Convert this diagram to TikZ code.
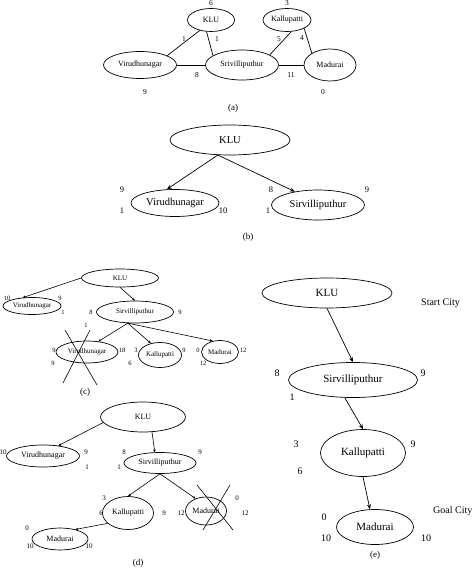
\documentclass[tikz,border=0pt]{standalone}
\usepackage{fontspec}
\setmainfont{Liberation Serif}
\usetikzlibrary{shapes.geometric,arrows.meta}
\begin{document}
\begin{tikzpicture}[x=1pt,y=-1pt,
  city/.style={ellipse,draw,line width=0.7pt,inner sep=0pt},
  edgeln/.style={line width=0.7pt},
  arr/.style={line width=0.7pt,-{Stealth[length=5pt,width=4pt]}},
  sarr/.style={line width=0.6pt,-{Stealth[length=3pt,width=2.6pt]}},
  crossln/.style={line width=0.6pt},
  fa/.style={font=\fontsize{8}{9}\selectfont},
  fb/.style={font=\fontsize{10.5}{12}\selectfont},
  fc/.style={font=\fontsize{7}{8}\selectfont},
  fd/.style={font=\fontsize{8}{9}\selectfont},
  fe/.style={font=\fontsize{11}{13}\selectfont},
  na/.style={inner sep=0pt,font=\fontsize{7.5}{9}\selectfont},
  nb/.style={inner sep=0pt,font=\fontsize{8.5}{10}\selectfont},
  nc/.style={inner sep=0pt,font=\fontsize{6.5}{8}\selectfont},
  nd/.style={inner sep=0pt,font=\fontsize{7}{8}\selectfont},
  ne/.style={inner sep=0pt,font=\fontsize{10}{12}\selectfont},
  capt/.style={inner sep=0pt,font=\fontsize{9}{11}\selectfont}]
\useasboundingbox[fill=white] (0,0) rectangle (474,569);

% ---------------- (a)
\node[city,fa,minimum width=47pt,minimum height=23pt] (ka) at (211,20) {KLU};
\node[city,fa,minimum width=48pt,minimum height=23pt] (la) at (287,20) {Kallupatti};
\node[city,fa,minimum width=73pt,minimum height=27pt] (va) at (140,65) {Virudhunagar};
\node[city,fa,minimum width=73pt,minimum height=30pt] (sa) at (242,65) {Srivilliputhur};
\node[city,fa,minimum width=52pt,minimum height=32pt] (ma) at (330,65) {Madurai};
\draw[edgeln] (ka.223) -- (va.19);
\draw[edgeln] (ka.249) -- (sa.162);
\draw[edgeln] (va.east) -- (sa.west);
\draw[edgeln] (sa.east) -- (ma.west);
\draw[edgeln] (sa.20) -- (la.290);
\draw[edgeln] (ma.147) -- (la.334);
\node[na] (a1) at (211,3) {6};
\node[na] (a2) at (287,3) {3};
\node[na] (a3) at (184,39) {1};
\node[na] (a4) at (217,39) {1};
\node[na] (a5) at (197,75) {8};
\node[na] (a6) at (291,75) {11};
\node[na] (a7) at (279,39) {5};
\node[na] (a8) at (302,38) {4};
\node[na] (a9) at (145,92) {9};
\node[na] (a10) at (323,92) {0};
\node[capt] (capa) at (233,108) {(a)};

% ---------------- (b)
\node[city,fb,minimum width=120pt,minimum height=30pt] (kb) at (230,140) {KLU};
\node[city,fb,minimum width=88pt,minimum height=27pt] (vb) at (175,203) {Virudhunagar};
\node[city,fb,minimum width=93pt,minimum height=30pt] (sb) at (318,205) {Sirvilliputhur};
\draw[arr] (kb.231) -- (vb.121);
\draw[arr] (kb.231) -- (sb.150);
\node[nb] (b1) at (122,190) {9};
\node[nb] (b2) at (122,211) {1};
\node[nb] (b3) at (223,211) {10};
\node[nb] (b4) at (271,190) {8};
\node[nb] (b5) at (268,211) {1};
\node[nb] (b6) at (367,190) {9};
\node[capt] (capb) at (248,237) {(b)};

% ---------------- (c)
\node[city,fc,minimum width=77pt,minimum height=18pt] (kc) at (120,278) {KLU};
\node[city,fc,minimum width=58pt,minimum height=17pt] (vc) at (32,306) {Virudhunagar};
\node[city,fc,minimum width=77pt,minimum height=22pt] (sc) at (135,312) {Sirvilliputhur};
\node[city,fc,minimum width=62pt,minimum height=22pt] (wc) at (87,352) {Virudhunagar};
\node[city,fc,minimum width=43pt,minimum height=25pt] (lc) at (160,355) {Kallupatti};
\node[city,fc,minimum width=37pt,minimum height=23pt] (mc) at (220,352) {Madurai};
\draw[sarr] (kc.west) -- (vc.138);
\draw[sarr] (kc.south) -- (sc.north);
\draw[sarr] (sc.237) -- (wc.43);
\draw[sarr] (sc.237) -- (lc.128);
\draw[sarr] (sc.237) -- (mc.123);
\coordinate (cx1) at (65,330); \coordinate (cx2) at (97,385);
\coordinate (cx3) at (90,330); \coordinate (cx4) at (63,383);
\draw[crossln] (cx1) -- (cx2);
\draw[crossln] (cx3) -- (cx4);
\node[nc] (c1) at (7,298) {10};
\node[nc] (c2) at (60,298) {9};
\node[nc] (c3) at (63,312) {1};
\node[nc] (c4) at (91,312) {8};
\node[nc] (c5) at (180,312) {9};
\node[nc] (c6) at (86,325) {1};
\node[nc] (c7) at (54,350) {9};
\node[nc] (c8) at (122,350) {18};
\node[nc] (c9) at (53,363) {9};
\node[nc] (c10) at (136,350) {3};
\node[nc] (c11) at (184,350) {9};
\node[nc] (c12) at (130,363) {6};
\node[nc] (c13) at (198,350) {0};
\node[nc] (c14) at (243,350) {12};
\node[nc] (c15) at (203,363) {12};
\node[capt] (capc) at (85,392) {(c)};

% ---------------- (d)
\node[city,fd,minimum width=85pt,minimum height=30pt] (kd) at (143,417) {KLU};
\node[city,fd,minimum width=73pt,minimum height=22pt] (vd) at (43,456) {Virudhunagar};
\node[city,fd,minimum width=72pt,minimum height=21pt] (sd) at (160,463) {Sirvilliputhur};
\node[city,fd,minimum width=51pt,minimum height=33pt] (ld) at (128,513) {Kallupatti};
\node[city,fd,minimum width=41pt,minimum height=28pt] (xd) at (206,511) {Madurai};
\node[city,fd,minimum width=56pt,minimum height=22pt] (md) at (60,539) {Madurai};
\draw[sarr] (kd.188) -- (vd.34);
\draw[sarr] (kd.301) -- (sd.116);
\draw[sarr] (sd.south) -- (ld.north);
\draw[sarr] (sd.south) -- (xd.130);
\draw[sarr] (ld.207) -- (md.32);
\coordinate (dx1) at (203,530); \coordinate (dx2) at (230,485);
\coordinate (dx3) at (197,485); \coordinate (dx4) at (233,530);
\draw[crossln] (dx1) -- (dx2);
\draw[crossln] (dx3) -- (dx4);
\node[nd] (d1) at (3,452) {10};
\node[nd] (d2) at (86,452) {9};
\node[nd] (d3) at (87,467) {1};
\node[nd] (d4) at (124,452) {8};
\node[nd] (d5) at (200,452) {9};
\node[nd] (d6) at (119,467) {1};
\node[nd] (d7) at (104,498) {3};
\node[nd] (d8) at (101,513) {6};
\node[nd] (d9) at (164,513) {9};
\node[nd] (d10) at (237,498) {0};
\node[nd] (d11) at (181,513) {12};
\node[nd] (d12) at (245,513) {12};
\node[nd] (d13) at (27,528) {0};
\node[nd] (d14) at (30,546) {10};
\node[nd] (d15) at (89,546) {10};
\node[capt] (capd) at (138,563) {(d)};

% ---------------- (e)
\node[city,fe,minimum width=130pt,minimum height=30pt] (ke) at (327,293) {KLU};
\node[city,fe,minimum width=129pt,minimum height=35pt] (se) at (353,380) {Sirvilliputhur};
\node[city,fe,minimum width=85pt,minimum height=47pt] (le) at (363,453) {Kallupatti};
\node[city,fe,minimum width=77pt,minimum height=35pt] (me) at (375,527) {Madurai};
\draw[arr] (ke.south) -- (se.north);
\draw[arr] (se.245) -- (le.north);
\draw[arr] (le.south) -- (me.106);
\node[ne,anchor=west] (st) at (421,303) {Start City};
\node[ne,anchor=west] (gl) at (433,511) {Goal City};
\node[ne] (e1) at (277,373) {8};
\node[ne] (e2) at (423,373) {9};
\node[ne] (e3) at (292,397) {1};
\node[ne] (e4) at (296,444) {3};
\node[ne] (e5) at (413,444) {9};
\node[ne] (e6) at (300,471) {6};
\node[ne] (e7) at (324,517) {0};
\node[ne] (e8) at (326,538) {10};
\node[ne] (e9) at (426,538) {10};
\node[capt] (cape) at (375,555) {(e)};
\end{tikzpicture}
\end{document}
